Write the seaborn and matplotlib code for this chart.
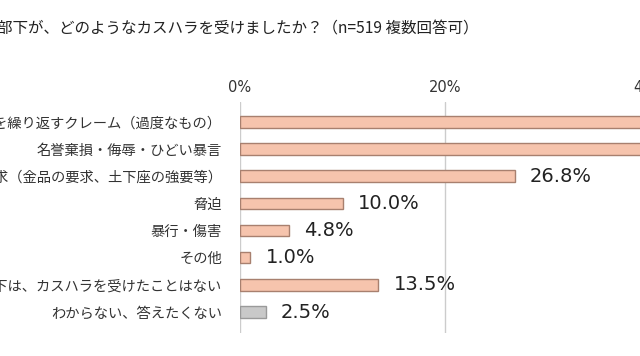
import matplotlib
matplotlib.use("Agg")
import matplotlib.pyplot as plt
import seaborn as sns
import pandas as pd

# data (first two bars run off the crop; values estimated)
categories = [
    "同じ内容を繰り返すクレーム（過度なもの）",
    "名誉棄損・侮辱・ひどい暴言",
    "不当な要求（金品の要求、土下座の強要等）",
    "脅迫",
    "暴行・傷害",
    "その他",
    "部下は、カスハラを受けたことはない",
    "わからない、答えたくない",
]
values = [52.4, 44.5, 26.8, 10.0, 4.8, 1.0, 13.5, 2.5]
ticks = [0, 20, 40]
tick_labels = ["0%", "20%", "40%"]
title = "部下が、どのようなカスハラを受けましたか？（n=519 複数回答可）"

bar_fill = "#f6c4ad"
bar_edge = "#a8806f"
grey_fill = "#c9c9c9"
grey_edge = "#9a9a9a"

sns.set_style("white")
plt.rcParams["font.family"] = ["Noto Sans CJK JP", "DejaVu Sans"]

df = pd.DataFrame({"category": categories, "value": values})
fills = [bar_fill] * (len(categories) - 1) + [grey_fill]
edges = [bar_edge] * (len(categories) - 1) + [grey_edge]

fig = plt.figure(figsize=(6.4, 3.56), dpi=100)
ax = fig.add_axes([0.375, 0.0646, 615 / 640, 0.6497])

sns.barplot(data=df, x="value", y="category", hue="category",
            palette=fills, legend=False, width=0.42, linewidth=1.0,
            saturation=1, ax=ax)
for patch, ec in zip(ax.patches, edges):
    patch.set_edgecolor(ec)

for cont in ax.containers:
    ax.bar_label(cont, fmt="%.1f%%", padding=11, fontsize=14,
                 color="#222222", family="DejaVu Sans")

ax.set_xlim(0, 60)
ax.set_ylim(7.77, -0.74)
ax.set_xticks(ticks)
ax.set_xticklabels(tick_labels, family="DejaVu Sans")
ax.xaxis.tick_top()
ax.tick_params(axis="x", length=0, pad=5, labelsize=10.5, labelcolor="#333333")
ax.tick_params(axis="y", length=0, pad=13, labelsize=10.3, labelcolor="#333333")
ax.grid(axis="x", color="#cccccc", linewidth=1.0)
ax.set_axisbelow(True)
for s in ax.spines.values():
    s.set_visible(False)
ax.set_xlabel("")
ax.set_ylabel("")

fig.text(-0.004, 0.918, title, fontsize=11.2, color="#222222",
         ha="left", va="center")

fig.savefig("out.png", dpi=100)
